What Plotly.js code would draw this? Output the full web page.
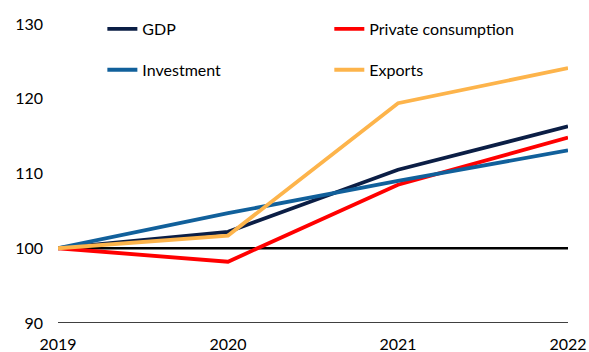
<!DOCTYPE html>
<html>
<head>
<meta charset="utf-8">
<script src="https://cdn.plot.ly/plotly-3.0.1.min.js"></script>
<style>html,body{margin:0;padding:0;background:#fff;}#chart{width:589px;height:352px;}</style>
</head>
<body>
<div id="chart"></div>
<script>
var years = [2019, 2020, 2021, 2022];
var gdp = [100, 102.2, 110.5, 116.3];
var privateConsumption = [100, 98.2, 108.5, 114.8];
var investment = [100, 104.7, 109.0, 113.1];
var exportsSeries = [100, 101.7, 119.4, 124.1];
var baseline = [100, 100, 100, 100];
var tickLabels = ['2019', '2020', '2021', '2022'];

var FONT = 'Lato, "Open Sans", sans-serif';
function tr(name, y, color, legend) {
  return {x: years, y: y, name: name, type: 'scatter', mode: 'lines',
    line: {color: color, width: 3.8}, legend: legend, legendgroup: name};
}
var data = [
  {x: years, y: baseline, type: 'scatter', mode: 'lines', line: {color: '#000', width: 2.4}, showlegend: false, hoverinfo: 'skip'},
  tr('GDP', gdp, '#0b1e45', 'legend'),
  tr('Private consumption', privateConsumption, '#ff0000', 'legend2'),
  tr('Investment', investment, '#11609b', 'legend'),
  tr('Exports', exportsSeries, '#fdb44b', 'legend2')
];
var legendCommon = {font: {family: FONT, size: 16, color: '#000'}, bgcolor: 'rgba(0,0,0,0)',
  traceorder: 'grouped', tracegroupgap: 17, xanchor: 'left', yanchor: 'top', yref: 'paper'};
var layout = {
  width: 589, height: 352,
  margin: {l: 58, r: 21, t: 17, b: 29},
  paper_bgcolor: '#fff', plot_bgcolor: '#fff',
  showlegend: true,
  xaxis: {range: [2019, 2022], tickvals: years, ticktext: tickLabels, showgrid: false, zeroline: false,
    showline: false, ticks: '', ticklabelstandoff: 10, tickfont: {family: FONT, size: 16, color: '#000'}, fixedrange: true},
  yaxis: {range: [90, 130], tickvals: [90, 100, 110, 120, 130], showgrid: false, zeroline: false,
    showline: false, ticks: '', ticklabelstandoff: 14, tickfont: {family: FONT, size: 16, color: '#000'}, fixedrange: true},
  shapes: [{type: 'line', xref: 'paper', yref: 'y', x0: 0, x1: 1, y0: 90, y1: 90, line: {color: '#000', width: 1.5}, layer: 'below'}],
  legend: Object.assign({}, legendCommon, {x: 0.087, y: 1.04}),
  legend2: Object.assign({}, legendCommon, {x: 0.532, y: 1.04})
};
Plotly.newPlot('chart', data, layout, {displayModeBar: false, staticPlot: true});
</script>
</body>
</html>
